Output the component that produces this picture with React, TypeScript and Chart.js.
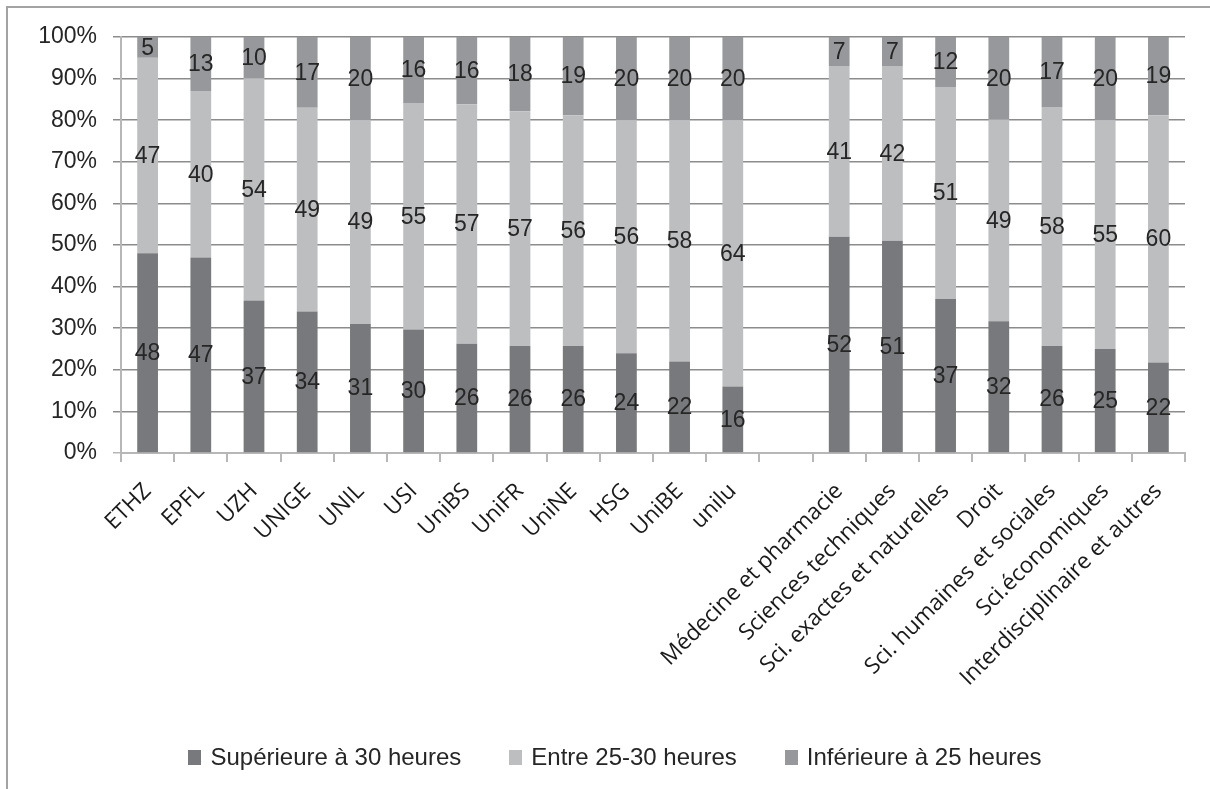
import React, { useEffect, useRef } from 'react';
import { Chart, registerables } from 'chart.js';

Chart.register(...registerables);

const categories = [
  'ETHZ', 'EPFL', 'UZH', 'UNIGE', 'UNIL', 'USI', 'UniBS', 'UniFR', 'UniNE', 'HSG', 'UniBE', 'unilu', '',
  'Médecine et pharmacie', 'Sciences techniques', 'Sci. exactes et naturelles', 'Droit',
  'Sci. humaines et sociales', 'Sci.économiques', 'Interdisciplinaire et autres',
];
const over30 = [48, 47, 37, 34, 31, 30, 26, 26, 26, 24, 22, 16, null, 52, 51, 37, 32, 26, 25, 22];
const between25and30 = [47, 40, 54, 49, 49, 55, 57, 57, 56, 56, 58, 64, null, 41, 42, 51, 49, 58, 55, 60];
const under25 = [5, 13, 10, 17, 20, 16, 16, 18, 19, 20, 20, 20, null, 7, 7, 12, 20, 17, 20, 19];
const seriesNames = ['Supérieure à 30 heures', 'Entre 25-30 heures', 'Inférieure à 25 heures'];
const yTicks = [0, 10, 20, 30, 40, 50, 60, 70, 80, 90, 100];

const COLORS = ['#78797C', '#BDBEC0', '#97989B'];
const TEXT_FONT = '"Liberation Sans"';
const W = 1210;
const H = 789;

function normalize(idx: number, arr: (number | null)[]) {
  const v = arr[idx];
  if (v === null) return null;
  const total = (over30[idx] as number) + (between25and30[idx] as number) + (under25[idx] as number);
  return (v / total) * 100;
}

const framePlugin = {
  id: 'frame',
  beforeDraw(chart: any) {
    const ctx = chart.ctx;
    ctx.save();
    ctx.fillStyle = '#FFFFFF';
    ctx.fillRect(0, 0, chart.width, chart.height);
    ctx.fillStyle = '#A3A3A3';
    ctx.fillRect(6, 6, chart.width - 6, 2);
    ctx.fillRect(6, 6, 2, chart.height - 6);
    ctx.restore();
  },
};

const labelPlugin = {
  id: 'segLabels',
  afterDatasetsDraw(chart: any) {
    const ctx = chart.ctx;
    ctx.save();
    ctx.font = `23px ${TEXT_FONT}`;
    ctx.fillStyle = '#262626';
    ctx.textAlign = 'center';
    ctx.textBaseline = 'middle';
    chart.data.datasets.forEach((ds: any, di: number) => {
      const meta = chart.getDatasetMeta(di);
      meta.data.forEach((el: any, i: number) => {
        const raw = ds.rawValues[i];
        if (raw === null || raw === undefined) return;
        const cy = (el.y + el.base) / 2;
        ctx.fillText(String(raw), el.x, cy + 1);
      });
    });
    ctx.restore();
  },
};

// Bottom legend drawn on the canvas (Excel-like spacing)
const legendPlugin = {
  id: 'bottomLegend',
  afterDraw(chart: any) {
    const ctx = chart.ctx;
    const boxW = 13;
    const boxH = 15;
    const boxGap = 9;
    const itemGap = 48;
    const cy = 757;
    ctx.save();
    ctx.font = `24px ${TEXT_FONT}`;
    ctx.textBaseline = 'middle';
    ctx.textAlign = 'left';
    const items = chart.data.datasets.map((ds: any) => ({
      text: ds.label,
      color: ds.backgroundColor,
      w: ctx.measureText(ds.label).width,
    }));
    const total =
      items.reduce((s: number, it: any) => s + boxW + boxGap + it.w, 0) + itemGap * (items.length - 1);
    let x = chart.width / 2 + 10 - total / 2;
    items.forEach((it: any) => {
      ctx.fillStyle = it.color;
      ctx.fillRect(Math.round(x), Math.round(cy - boxH / 2), boxW, boxH);
      x += boxW + boxGap;
      ctx.fillStyle = '#262626';
      ctx.fillText(it.text, x, cy + 1);
      x += it.w + itemGap;
    });
    ctx.restore();
  },
};

export default function App() {
  const canvasRef = useRef<HTMLCanvasElement | null>(null);

  useEffect(() => {
    if (!canvasRef.current) return;
    const raws = [over30, between25and30, under25];
    const chart = new Chart(canvasRef.current, {
      type: 'bar',
      data: {
        labels: categories,
        datasets: raws.map((arr, k) => ({
          label: seriesNames[k],
          data: arr.map((_, i) => normalize(i, arr)),
          rawValues: arr,
          backgroundColor: COLORS[k],
          borderWidth: 0,
          categoryPercentage: 1,
          barPercentage: 0.39,
        })) as any,
      },
      options: {
        animation: false,
        responsive: false,
        maintainAspectRatio: false,
        layout: { padding: { top: 37, right: 25, bottom: 0, left: 0 } },
        plugins: {
          tooltip: { enabled: false },
          legend: { display: false },
        },
        scales: {
          x: {
            stacked: true,
            offset: true,
            border: { color: '#B7B7B7', width: 2 },
            grid: {
              offset: true,
              drawOnChartArea: false,
              drawTicks: true,
              tickLength: 9,
              color: '#B7B7B7',
              lineWidth: 2,
            },
            ticks: {
              autoSkip: false,
              maxRotation: 45,
              minRotation: 45,
              padding: 16,
              color: '#1A1A1A',
              font: { family: '"Open Sans"', size: 22.5 },
            },
            afterFit: (scale: any) => {
              scale.height = 336;
            },
          },
          y: {
            stacked: true,
            min: 0,
            max: 100,
            border: { color: '#B7B7B7', width: 2 },
            grid: {
              color: (c: any) => (c.tick && c.tick.value === 0 ? '#B7B7B7' : '#8C8C8C'),
              lineWidth: 1.5,
              tickLength: 8,
            },
            afterBuildTicks: (scale: any) => {
              scale.ticks = yTicks.map((v) => ({ value: v }));
            },
            ticks: {
              padding: 16,
              color: '#262626',
              font: { family: TEXT_FONT, size: 23 },
              callback: (v: any) => v + '%',
            },
            afterFit: (scale: any) => {
              scale.width = 121;
            },
          },
        },
      },
      plugins: [framePlugin, labelPlugin, legendPlugin],
    });
    return () => chart.destroy();
  }, []);

  return (
    <canvas
      ref={canvasRef}
      width={W}
      height={H}
      style={{ position: 'fixed', left: 0, top: 0, display: 'block' }}
    />
  );
}
